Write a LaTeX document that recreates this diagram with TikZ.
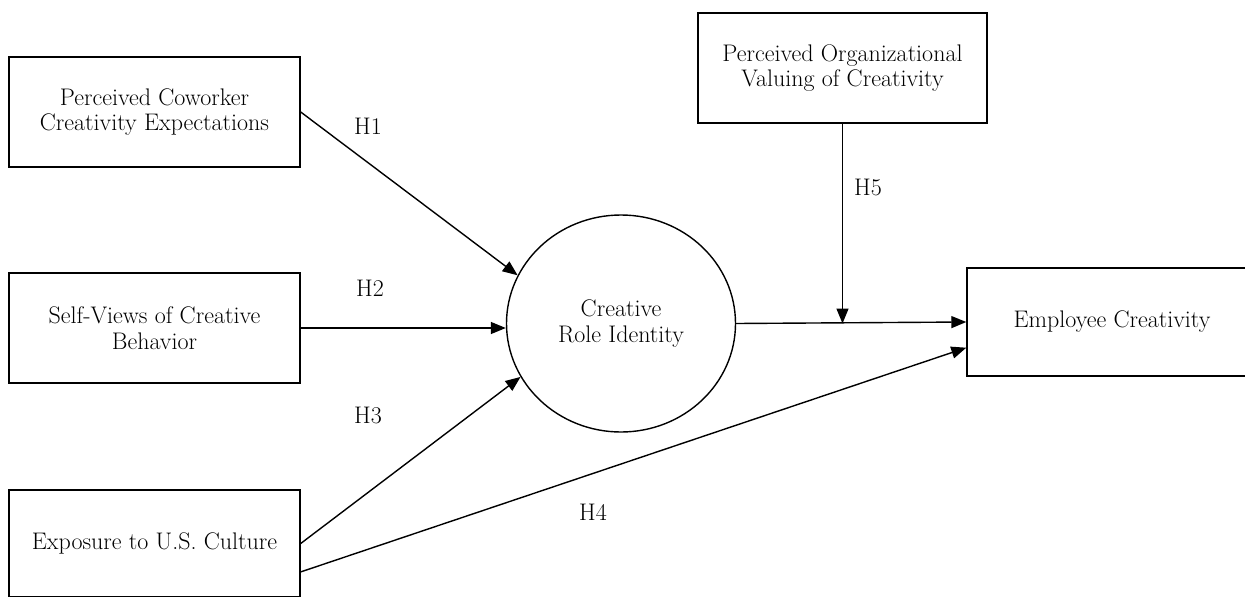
\documentclass[tikz,border=0pt]{standalone}
\usepackage{amsmath}
\usepackage{xcolor}
\usetikzlibrary{shapes.geometric, arrows.meta}

\tikzset{
  varbox/.style={draw, line width=1.4pt, minimum width=291pt, minimum height=110pt,
    inner sep=0pt, align=center, font=\fontsize{24}{25.5}\selectfont},
  hyp/.style={font=\fontsize{24}{25.5}\selectfont}
}

\begin{document}
\begin{tikzpicture}[x=1pt, y=-1pt, line width=1.4pt, >={Triangle[length=15pt,width=12pt]}]

\useasboundingbox (0,0) rectangle (1245,597);

% Predictors on the left
\node[varbox] (cowork) at (154.5,112) {Perceived Coworker\\Creativity Expectations};
\node[varbox] (selfview) at (154.5,328) {Self-Views of Creative\\Behavior};
\node[varbox, minimum height=107pt] (exposure) at (154.5,543.5) {Exposure to U.S. Culture};

% Mediator
\node[ellipse, draw, line width=1.4pt, minimum width=229pt, minimum height=217pt,
  inner sep=0pt, align=center, font=\fontsize{24}{25.5}\selectfont] (roleid) at (621,323.5) {Creative\\Role Identity};

% Moderator and outcome
\node[varbox, minimum width=289pt] (orgvalue) at (842.5,68) {Perceived Organizational\\Valuing of Creativity};
\node[varbox, minimum width=290pt, minimum height=108pt] (empcreat) at (1112,322) {Employee Creativity};

% Paths into Creative Role Identity
\draw[->] (cowork.east) -- (roleid.155);
\draw[->] (selfview.east) -- (roleid.west |- selfview.east);
\draw[->] (exposure.east) -- (roleid.208);

% Paths into Employee Creativity
\draw[->] (roleid.east) -- (empcreat.west);
\draw[->] (exposure.-11) -- (empcreat.190);

% Moderation arrow onto the path
\coordinate (modpt) at (orgvalue.south |- roleid.east);
\draw[->] (orgvalue.south) -- (modpt);

% Hypothesis labels
\node[hyp] (h1) at (368,126) {H1};
\node[hyp] (h2) at (370,288) {H2};
\node[hyp] (h3) at (368,415) {H3};
\node[hyp] (h4) at (593,512) {H4};
\node[hyp] (h5) at (868,187) {H5};
\end{tikzpicture}
\end{document}
